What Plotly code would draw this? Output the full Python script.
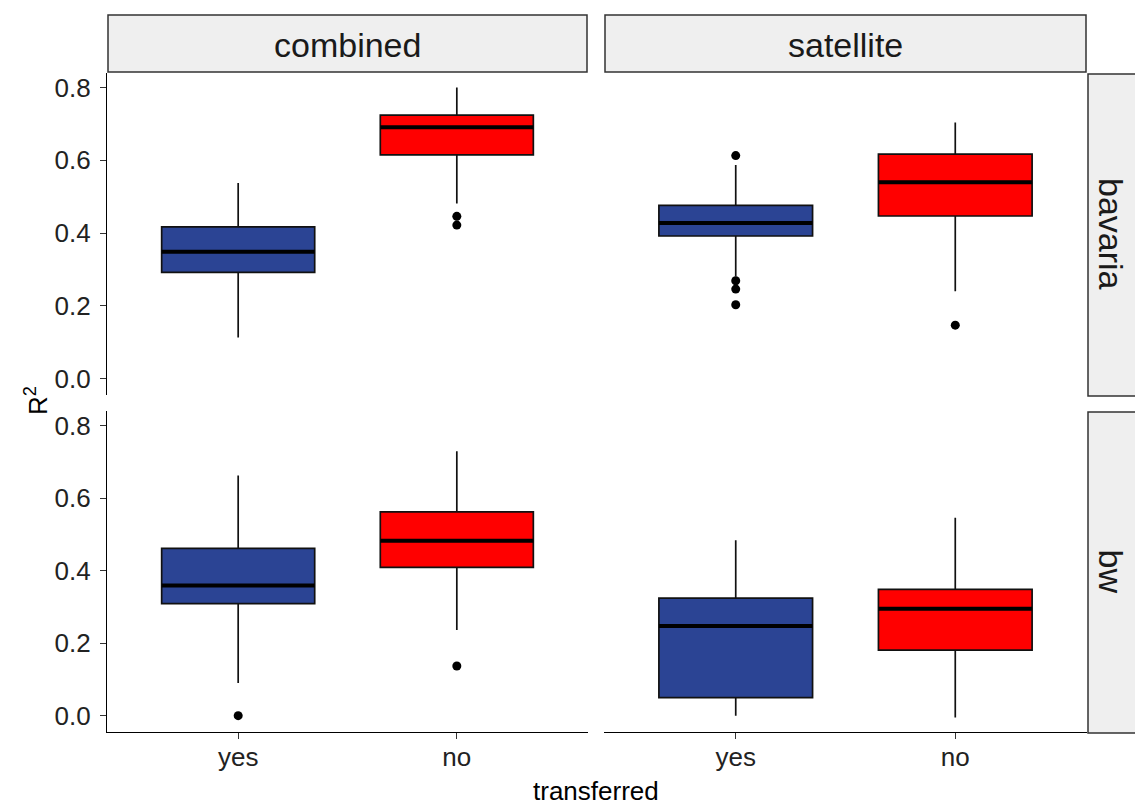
import plotly.graph_objects as go

W, H = 1135, 805

col_facets = ["combined", "satellite"]
row_facets = ["bavaria", "bw"]
transferred = ["yes", "no"]

# order: bavaria/combined yes,no ; bavaria/satellite yes,no ; bw/combined yes,no ; bw/satellite yes,no
panel_row = ["bavaria"] * 4 + ["bw"] * 4
panel_col = ["combined", "combined", "satellite", "satellite"] * 2
panel_tr = ["yes", "no"] * 4

lower = [0.113, 0.481, 0.281, 0.240, 0.090, 0.236, 0.000, -0.005]
q1 = [0.292, 0.615, 0.392, 0.447, 0.309, 0.409, 0.050, 0.181]
median = [0.349, 0.691, 0.428, 0.540, 0.359, 0.482, 0.247, 0.295]
q3 = [0.417, 0.724, 0.476, 0.617, 0.461, 0.562, 0.324, 0.348]
upper = [0.538, 0.800, 0.587, 0.704, 0.662, 0.729, 0.484, 0.546]
outliers = [[], [0.446, 0.422], [0.613, 0.269, 0.246, 0.203], [0.147],
            [0.0], [0.137], [], []]

y_ticks = [0.0, 0.2, 0.4, 0.6, 0.8]
y_tick_text = ["0.0", "0.2", "0.4", "0.6", "0.8"]

fill_colors = {"yes": "#2B4494", "no": "#FF0000"}

# layout geometry in pixels
xl = [(107, 588), (604, 1087)]
yt = [(73, 395), (411, 732)]


def px_x(a, b):
    return [a / W, b / W]


def px_y(a, b):
    return [1 - b / H, 1 - a / H]


fig = go.Figure()

axis_idx = {}
for ri, r in enumerate(row_facets):
    for ci, c in enumerate(col_facets):
        axis_idx[(r, c)] = ri * 2 + ci + 1

BOXW = 0.7
for i in range(len(lower)):
    k = axis_idx[(panel_row[i], panel_col[i])]
    xa = "x" if k == 1 else f"x{k}"
    ya = "y" if k == 1 else f"y{k}"
    tr = panel_tr[i]
    fig.add_trace(go.Box(
        x=[tr], q1=[q1[i]], median=[median[i]], q3=[q3[i]],
        lowerfence=[lower[i]], upperfence=[upper[i]],
        fillcolor=fill_colors[tr], line=dict(color="#111111", width=1.7),
        whiskerwidth=0, width=BOXW, boxpoints=False,
        xaxis=xa, yaxis=ya, showlegend=False, hoverinfo="skip"))
    # thicker median line
    fig.add_trace(go.Box(
        x=[tr], q1=[median[i]], median=[median[i]], q3=[median[i]],
        lowerfence=[median[i]], upperfence=[median[i]],
        fillcolor="rgba(0,0,0,0)", line=dict(color="black", width=4),
        whiskerwidth=0, width=BOXW, boxpoints=False,
        xaxis=xa, yaxis=ya, showlegend=False, hoverinfo="skip"))
    if outliers[i]:
        fig.add_trace(go.Scatter(
            x=[tr] * len(outliers[i]), y=outliers[i], mode="markers",
            marker=dict(color="black", size=9),
            xaxis=xa, yaxis=ya, showlegend=False, hoverinfo="skip"))

font_family = "Liberation Sans, Arial, sans-serif"
tick_font = dict(family=font_family, size=26, color="#222222")

layout = dict(
    width=W, height=H, margin=dict(l=0, r=0, t=0, b=0),
    paper_bgcolor="white", plot_bgcolor="white",
    boxmode="overlay", font=dict(family=font_family),
)

for ri in range(2):
    for ci in range(2):
        k = ri * 2 + ci + 1
        xkey = "xaxis" if k == 1 else f"xaxis{k}"
        ykey = "yaxis" if k == 1 else f"yaxis{k}"
        bottom = ri == 1
        left = ci == 0
        layout[xkey] = dict(
            domain=px_x(*xl[ci]), anchor="y" if k == 1 else f"y{k}",
            type="category", categoryorder="array", categoryarray=transferred,
            range=[-0.6, 1.6], showgrid=False, zeroline=False,
            showline=bottom, linecolor="black", linewidth=1.3,
            ticks="outside" if bottom else "", ticklen=6, tickwidth=1.3,
            tickcolor="#333333", showticklabels=bottom, tickfont=tick_font,
            ticklabelstandoff=-4, fixedrange=True)
        layout[ykey] = dict(
            domain=px_y(*yt[ri]), anchor="x" if k == 1 else f"x{k}",
            range=[-0.045, 0.84], showgrid=False, zeroline=False,
            tickvals=y_ticks, ticktext=y_tick_text,
            showline=left, linecolor="black", linewidth=1.3,
            ticks="outside" if left else "", ticklen=6, tickwidth=1.3,
            tickcolor="#333333", showticklabels=left, tickfont=tick_font,
            ticklabelstandoff=4, fixedrange=True)

shapes = []
annotations = []
strip_fill = "#EFEFEF"
strip_line = dict(color="#333333", width=1.5)
strip_font = dict(family=font_family, size=34, color="#1a1a1a")

for ci, c in enumerate(col_facets):
    x0, x1 = xl[ci]
    shapes.append(dict(type="rect", xref="paper", yref="paper",
                       x0=(x0 + 1) / W, x1=(x1 - 1) / W,
                       y0=1 - 72 / H, y1=1 - 15 / H,
                       fillcolor=strip_fill, line=strip_line, layer="below"))
    annotations.append(dict(text=c, xref="paper", yref="paper",
                            x=(x0 + x1) / 2 / W, y=1 - 45 / H,
                            showarrow=False, font=strip_font,
                            xanchor="center", yanchor="middle"))

for ri, r in enumerate(row_facets):
    y0, y1 = yt[ri]
    shapes.append(dict(type="rect", xref="paper", yref="paper",
                       x0=1088 / W, x1=1145 / W,
                       y0=1 - (y1 + 1) / H, y1=1 - (y0 + 1) / H,
                       fillcolor=strip_fill, line=strip_line, layer="below"))
    annotations.append(dict(text=r, xref="paper", yref="paper",
                            x=1111 / W, y=1 - (y0 + y1) / 2 / H,
                            showarrow=False, font=strip_font, textangle=90,
                            xanchor="center", yanchor="middle"))

annotations.append(dict(text="R<sup>2</sup>", xref="paper", yref="paper",
                        x=36 / W, y=1 - 401 / H, showarrow=False,
                        textangle=-90, font=dict(family=font_family, size=26, color="black"),
                        xanchor="center", yanchor="middle"))
annotations.append(dict(text="transferred", xref="paper", yref="paper",
                        x=596 / W, y=1 - 791 / H, showarrow=False,
                        font=dict(family=font_family, size=26, color="black"),
                        xanchor="center", yanchor="middle"))

layout["shapes"] = shapes
layout["annotations"] = annotations
fig.update_layout(**layout)

fig.write_html("out.html", config={"displayModeBar": False},
               post_script="document.body.style.margin='0';document.body.style.padding='0';")
